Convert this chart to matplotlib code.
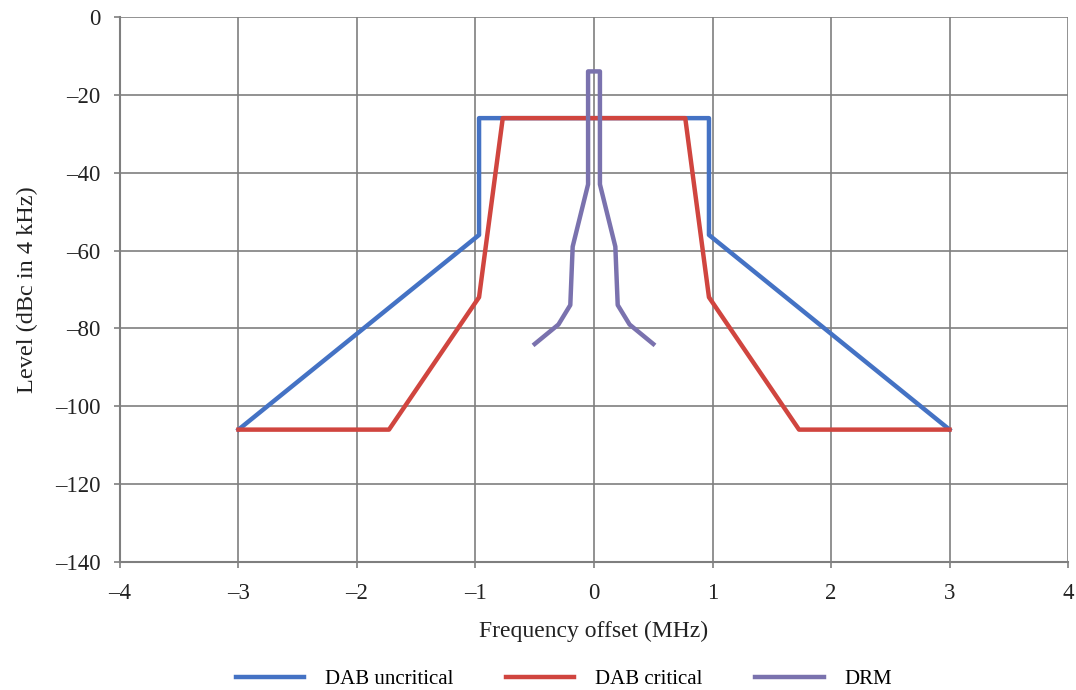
import matplotlib.pyplot as plt
from matplotlib.ticker import FuncFormatter

# DAB uncritical mask
dab_unc_x = [-3.0, -0.97, -0.97, 0.97, 0.97, 3.0]
dab_unc_y = [-106, -56, -26, -26, -56, -106]

# DAB critical mask
dab_crit_x = [-3.0, -1.73, -0.97, -0.77, 0.77, 0.97, 1.73, 3.0]
dab_crit_y = [-106, -106, -72, -26, -26, -72, -106, -106]

# DRM mask
drm_x = [-0.5, -0.3, -0.2, -0.18, -0.05, -0.05, 0.05, 0.05, 0.18, 0.2, 0.3, 0.5]
drm_y = [-84, -79, -74, -59, -43, -14, -14, -43, -59, -74, -79, -84]

plt.rcParams['font.family'] = ['Liberation Serif', 'DejaVu Serif']

fig = plt.figure(figsize=(10.76, 6.9), dpi=100)
ax = fig.add_axes([0.1115, 0.1855, 0.8811, 0.79])

ax.plot(dab_unc_x, dab_unc_y, color='#4472C4', lw=3.2, label='DAB uncritical', zorder=3)
ax.plot(dab_crit_x, dab_crit_y, color='#D0453F', lw=3.2, label='DAB critical', zorder=3)
ax.plot(drm_x, drm_y, color='#7A72AE', lw=3.2, label='DRM', zorder=4)

ax.set_xlim(-4, 4)
ax.set_ylim(-140, 0)
ax.set_xticks(range(-4, 5))
ax.set_yticks(range(-140, 1, 20))
fmt = FuncFormatter(lambda v, p: ('\u2013%d' % abs(v)) if v < 0 else '%d' % v)
ax.xaxis.set_major_formatter(fmt)
ax.yaxis.set_major_formatter(fmt)
ax.grid(True, color='#7f7f7f', lw=1.2)
ax.set_axisbelow(True)
for s in ['top', 'right']:
    ax.spines[s].set_visible(False)
for s in ['left', 'bottom']:
    ax.spines[s].set_color('#7f7f7f')
    ax.spines[s].set_linewidth(1.5)
ax.tick_params(labelsize=16.5, colors='#7f7f7f', labelcolor='#222222', length=4, width=1.2)
ax.tick_params(axis='x', pad=11)
ax.tick_params(axis='y', pad=10)

ax.set_xlabel('Frequency offset (MHz)', fontsize=17, labelpad=12, color='#222222')
ax.set_ylabel('Level (dBc in 4 kHz)', fontsize=17.5, labelpad=12, color='#222222')

fig.legend(loc='center', bbox_to_anchor=(0.524, 0.015), ncol=3, frameon=False,
           fontsize=15, handlelength=3.3, handletextpad=1.0, columnspacing=2.5)

fig.savefig('out.png', dpi=100)
